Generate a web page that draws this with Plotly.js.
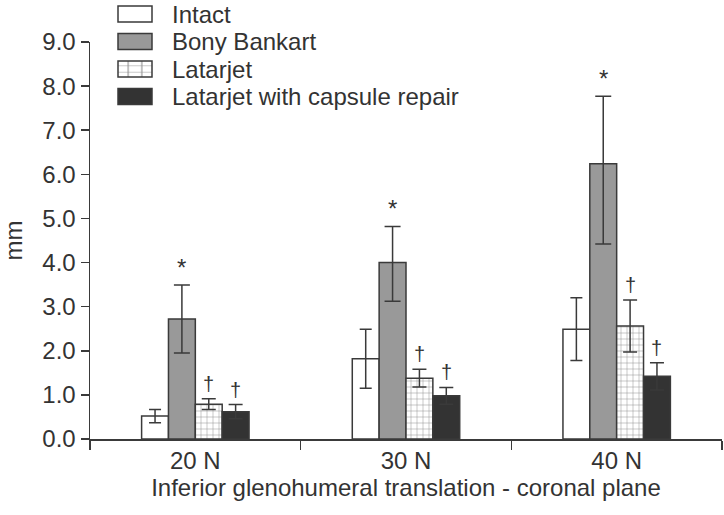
<!DOCTYPE html>
<html>
<head>
<meta charset="utf-8">
<script src="https://cdn.plot.ly/plotly-3.0.1.min.js"></script>
<style>
  body { margin: 0; background: #fff; }
  #chart { width: 724px; height: 515px; }
</style>
</head>
<body>
<div id="chart"></div>
<script>
var loads = ['20 N', '30 N', '40 N'];

var intact = [0.52, 1.82, 2.49];
var intactErr = [0.15, 0.67, 0.71];

var bony = [2.72, 4.0, 6.24];
var bonyErr = [0.77, 0.82, 1.53];
var bonyErrMinus = [0.77, 0.88, 1.82];

var latarjet = [0.79, 1.38, 2.56];
var latarjetErr = [0.12, 0.2, 0.59];

var capsule = [0.62, 0.98, 1.42];
var capsuleErr = [0.16, 0.19, 0.31];

// significance marks: * vs intact, † vs bony bankart
var bonyMark = ['*', '*', '*'];
var latarjetMark = ['†', '†', '†'];
var capsuleMark = ['†', '†', '†'];

var outline = '#3a3a3a';
var txt = '#333333';
var bargap = 0.49;
var fam = 'Liberation Sans, Arial, sans-serif';

function errBar(plus, w) {
  return {type: 'data', array: plus, visible: true, color: outline, thickness: 1.5, width: w || 6};
}

var traces = [
  {
    x: loads, y: intact, name: 'Intact', type: 'bar',
    marker: {color: '#ffffff', line: {color: outline, width: 1.5}},
    error_y: errBar(intactErr, 6)
  },
  {
    x: loads, y: bony, name: 'Bony Bankart', type: 'bar',
    marker: {color: '#999999', line: {color: outline, width: 1.5}},
    error_y: {type: 'data', symmetric: false, array: bonyErr, arrayminus: bonyErrMinus,
              visible: true, color: outline, thickness: 1.5, width: 8}
  },
  {
    x: loads, y: latarjet, name: 'Latarjet', type: 'bar',
    marker: {color: '#ffffff', line: {color: outline, width: 1.5},
             pattern: {shape: '+', fgcolor: '#8a8a8a', bgcolor: '#ffffff', size: 6, solidity: 0.15}},
    error_y: errBar(latarjetErr, 7)
  },
  {
    x: loads, y: capsule, name: 'Latarjet with capsule repair', type: 'bar',
    marker: {color: '#333333', line: {color: outline, width: 1.5}},
    error_y: errBar(capsuleErr, 7)
  }
];

// annotation x offsets derived from the grouped-bar layout
var nSeries = 4;
var barW = (1 - bargap) / nSeries;
function offset(k) { return -(1 - bargap) / 2 + barW * (k + 0.5); }

var annotations = [];
function addMarks(marks, vals, errs, k, size) {
  for (var i = 0; i < loads.length; i++) {
    annotations.push({
      x: i + offset(k), y: vals[i] + errs[i], xref: 'x', yref: 'y',
      text: marks[i], showarrow: false, yanchor: 'bottom', yshift: 2,
      font: {family: fam, size: size, color: txt}
    });
  }
}
addMarks(bonyMark, bony, bonyErr, 1, 24);
addMarks(latarjetMark, latarjet, latarjetErr, 2, 20);
addMarks(capsuleMark, capsule, capsuleErr, 3, 20);

var layout = {
  width: 724, height: 515,
  margin: {l: 90, r: 2, t: 29, b: 76},
  paper_bgcolor: '#ffffff', plot_bgcolor: '#ffffff',
  font: {family: fam, size: 24, color: txt},
  barmode: 'group', bargap: bargap, bargroupgap: 0,
  showlegend: true,
  legend: {
    x: 0.02, y: 1.1, xanchor: 'left', yanchor: 'top',
    bgcolor: 'rgba(0,0,0,0)', font: {size: 24, color: txt},
    itemwidth: 60, tracegroupgap: 0
  },
  xaxis: {
    type: 'category', range: [-0.5, 2.5],
    showline: true, linecolor: outline, linewidth: 1.5,
    ticks: 'outside', tickson: 'boundaries', ticklen: 9, tickcolor: outline, tickwidth: 1.5,
    showgrid: false, zeroline: false,
    title: {text: 'Inferior glenohumeral translation - coronal plane', standoff: 4, font: {size: 24}}
  },
  yaxis: {
    range: [0, 9], dtick: 1, tickformat: '.1f',
    showline: true, linecolor: outline, linewidth: 1.5,
    ticks: 'outside', ticklen: 8, tickcolor: outline, tickwidth: 1.5,
    showgrid: false, zeroline: false,
    title: {text: 'mm', standoff: 14, font: {size: 24}}
  },
  annotations: annotations
};

// legend tweaks: tighter rows and wide flat swatches as in the original figure
var legendTextLeft = 172, legendRowTop = 14, legendRowStep = 27.5;
var swatchW = 34, swatchH = 16, swatchGap = 20;

function parseTranslate(el) {
  var m = /translate\(\s*([-\d.]+)[ ,]*([-\d.]*)\)/.exec(el.getAttribute('transform') || '');
  return m ? [parseFloat(m[1]), parseFloat(m[2] || 0)] : [0, 0];
}

Plotly.newPlot('chart', traces, layout, {displayModeBar: false, staticPlot: true}).then(function (gd) {
  var legend = gd.querySelector('.legend');
  legend.removeAttribute('clip-path');
  legend.querySelectorAll('[clip-path]').forEach(function (el) { el.removeAttribute('clip-path'); });

  var items = legend.querySelectorAll('.traces');
  items.forEach(function (item, i) {
    var text = item.querySelector('text.legendtext');
    var r = text.getBoundingClientRect();
    var t = parseTranslate(item);
    var dx = legendTextLeft - r.left;
    var dy = (legendRowTop + i * legendRowStep) - (r.top + r.height / 2);
    item.setAttribute('transform', 'translate(' + (t[0] + dx) + ',' + (t[1] + dy) + ')');

    var p = item.querySelector('.legendpoints path');
    if (!p) return;
    var orig = p.getAttribute('transform') || '';
    var sc = ' scale(' + (swatchW / 12) + ',' + (swatchH / 12) + ')';
    p.setAttribute('transform', orig + sc);
    p.style.vectorEffect = 'non-scaling-stroke';
    var pr = p.getBoundingClientRect();
    var tr = text.getBoundingClientRect();
    var sdx = (tr.left - swatchGap - swatchW / 2) - (pr.left + pr.width / 2);
    var sdy = (tr.top + tr.height / 2) - (pr.top + pr.height / 2);
    p.setAttribute('transform', 'translate(' + sdx + ',' + sdy + ') ' + orig + sc);
  });
});
</script>
</body>
</html>
